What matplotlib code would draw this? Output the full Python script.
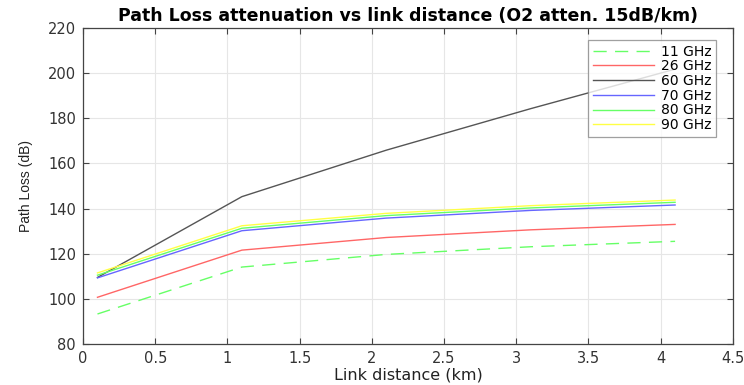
import matplotlib

matplotlib.use("Agg")
import matplotlib.pyplot as plt

plt.rcParams["font.family"] = ["DejaVu Sans"]

# link distance (km) and path loss (dB) per band
distance = [0.1, 1.1, 2.1, 3.1, 4.1]
loss_11 = [93.3, 114.1, 119.7, 123.1, 125.5]
loss_26 = [100.7, 121.6, 127.2, 130.6, 133.0]
loss_60 = [109.5, 145.3, 165.9, 184.3, 201.8]
loss_70 = [109.3, 130.2, 135.8, 139.2, 141.6]
loss_80 = [110.5, 131.3, 136.9, 140.3, 142.8]
loss_90 = [111.5, 132.4, 137.9, 141.3, 143.8]
labels = ["11 GHz", "26 GHz", "60 GHz", "70 GHz", "80 GHz", "90 GHz"]

series = [loss_11, loss_26, loss_60, loss_70, loss_80, loss_90]
colors = ["#66ff66", "#ff6666", "#555555", "#6666ff", "#66ff66", "#ffff44"]
styles = [(0, (9.5, 6)), "-", "-", "-", "-", "-"]

fig = plt.figure(figsize=(7.44, 3.85), dpi=100)
ax = fig.add_axes([0.1116, 0.1065, 0.8734, 0.8205])

for y, lab, c, ls in zip(series, labels, colors, styles):
    ax.plot(distance, y, color=c, ls=ls, lw=1.0, label=lab)

ax.set_xlim(0, 4.5)
ax.set_ylim(80, 220)
ax.set_xticks([0, 0.5, 1, 1.5, 2, 2.5, 3, 3.5, 4, 4.5])
ax.set_xticklabels(["0", "0.5", "1", "1.5", "2", "2.5", "3", "3.5", "4", "4.5"])
ax.set_yticks(range(80, 221, 20))
ax.grid(True, color="#e6e6e6", lw=0.8)
ax.set_axisbelow(True)
ax.tick_params(direction="in", top=True, right=True, length=4, color="#444444",
               labelcolor="#333333", labelsize=10.5, pad=5)
for s in ax.spines.values():
    s.set_color("#444444")
    s.set_linewidth(0.9)

ax.set_title("Path Loss attenuation vs link distance (O2 atten. 15dB/km)",
             fontsize=12.5, fontweight="bold", pad=5)
ax.set_xlabel("Link distance (km)", fontsize=11.5, color="#222222", labelpad=1)
ax.set_ylabel("Path Loss (dB)", fontsize=10, color="#222222", labelpad=11,
              family="Liberation Sans")

leg = ax.legend(loc="upper right", bbox_to_anchor=(0.985, 0.985), fontsize=10,
                frameon=True, fancybox=False, edgecolor="#888888", handlelength=4.4,
                borderpad=0.35, labelspacing=0.05, handletextpad=0.5)
leg.get_frame().set_linewidth(0.9)

fig.savefig("out.png", dpi=100)
